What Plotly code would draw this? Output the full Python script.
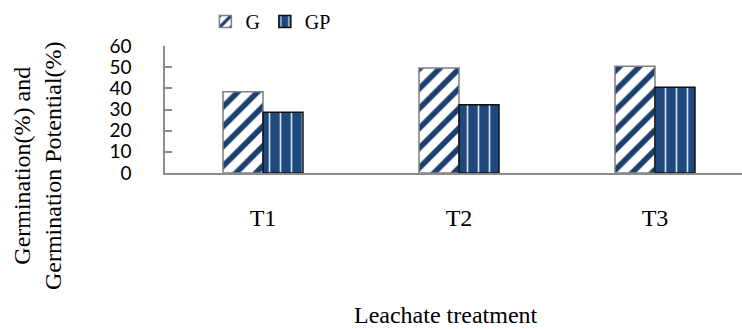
import plotly.graph_objects as go

# Leachate treatments and germination measurements (%)
treatments = ["T1", "T2", "T3"]
germination = [38.4, 49.6, 50.4]
germination_potential = [28.7, 32.3, 40.5]
y_ticks = [0, 10, 20, 30, 40, 50, 60]

navy = "#1F497D"
serif = "Liberation Serif, Times New Roman, serif"

fig = go.Figure()
fig.add_trace(go.Bar(
    name="G", x=treatments, y=germination,
    marker=dict(
        color="white",
        line=dict(color="#7F7F7F", width=1.5),
        pattern=dict(shape="/", fgcolor="#1B3F6E", bgcolor="white",
                     size=14, solidity=0.4, fillmode="replace", fgopacity=1),
    ),
))
fig.add_trace(go.Bar(
    name="GP", x=treatments, y=germination_potential,
    marker=dict(
        color=navy,
        line=dict(color="#101010", width=1.5),
        pattern=dict(shape="|", fgcolor="#D9E1EC", bgcolor=navy,
                     size=11, solidity=0.15, fillmode="replace", fgopacity=1),
    ),
))

fig.update_layout(
    width=742, height=329,
    margin=dict(l=165, r=0, t=46, b=156),
    paper_bgcolor="white", plot_bgcolor="white",
    barmode="group", bargap=0.592, bargroupgap=0,
    showlegend=True,
    legend=dict(
        orientation="h", x=0.07, y=1.04, xanchor="left", yanchor="bottom",
        font=dict(family=serif, size=20, color="black"),
        itemwidth=30, tracegroupgap=0,
    ),
    xaxis=dict(
        range=[-0.5, 2.444],
        showline=True, linecolor="#8C8C8C", linewidth=1.5,
        ticks="", showgrid=False,
        tickfont=dict(family=serif, size=24, color="black"),
        ticklabelstandoff=22,
    ),
    yaxis=dict(
        range=[0, 60], tickvals=y_ticks,
        showline=True, linecolor="#8C8C8C", linewidth=1.5,
        ticks="inside", ticklen=7, tickcolor="#8C8C8C", tickwidth=1.5,
        showgrid=False, zeroline=False,
        tickfont=dict(family="Lato, sans-serif", size=19, color="black"),
        ticklabelstandoff=28,
    ),
    annotations=[
        dict(text="Germination(%) and<br>Germination Potential(%)",
             xref="paper", yref="paper",
             x=(37 - 165) / 577, y=(173 - 166) / 127.5,
             xanchor="center", yanchor="middle", textangle=-90,
             showarrow=False, font=dict(family=serif, size=24, color="black")),
        dict(text="Leachate treatment",
             xref="paper", yref="paper",
             x=(446 - 165) / 577, y=-(316 - 173) / 127.5,
             xanchor="center", yanchor="middle",
             showarrow=False, font=dict(family=serif, size=24, color="black")),
    ],
)

fig.write_html("out.html")
